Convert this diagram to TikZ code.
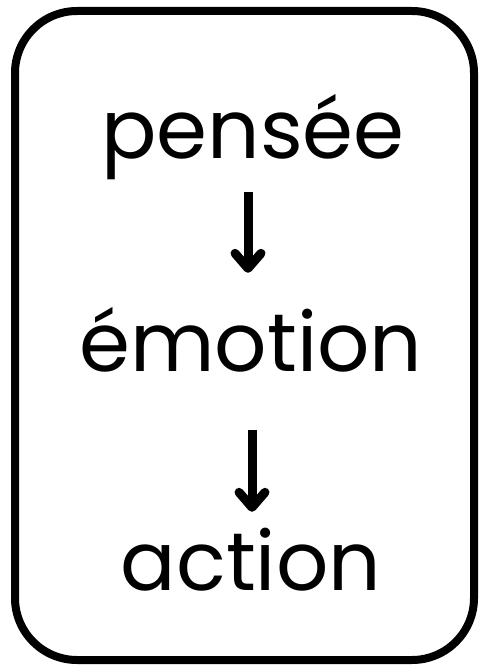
\documentclass[tikz,border=0pt]{standalone}
\usepackage{fontspec}
\setmainfont{Poppins}
\usetikzlibrary{arrows.meta}

\begin{document}
\begin{tikzpicture}[x=1pt,y=-1pt]
\tikzstyle{every node}+=[inner sep=0pt]
\tikzstyle{word}=[anchor=base,text height=60pt,text depth=18pt,font=\fontsize{82}{90}\selectfont]
\tikzstyle{flow}=[line width=9pt,-{Straight Barb[length=15pt,width=26pt,round]}]
\useasboundingbox (0,0) rectangle (480,666);
\draw [line width=8pt,rounded corners=62pt] (15,11) rectangle (474,660);
\node [word] (pensee) at (253,158) {pensée};
\node [word] (emotion) at (251,371) {émotion};
\node [word] (action) at (251,590) {action};
\draw [flow,shorten <=16pt,shorten >=38pt] ([xshift=-5pt]pensee.south) -- ([xshift=-3pt]emotion.north);
\draw [flow,shorten <=41pt,shorten >=18pt] ([xshift=1pt]emotion.south) -- ([xshift=1pt]action.north);
\end{tikzpicture}
\end{document}
